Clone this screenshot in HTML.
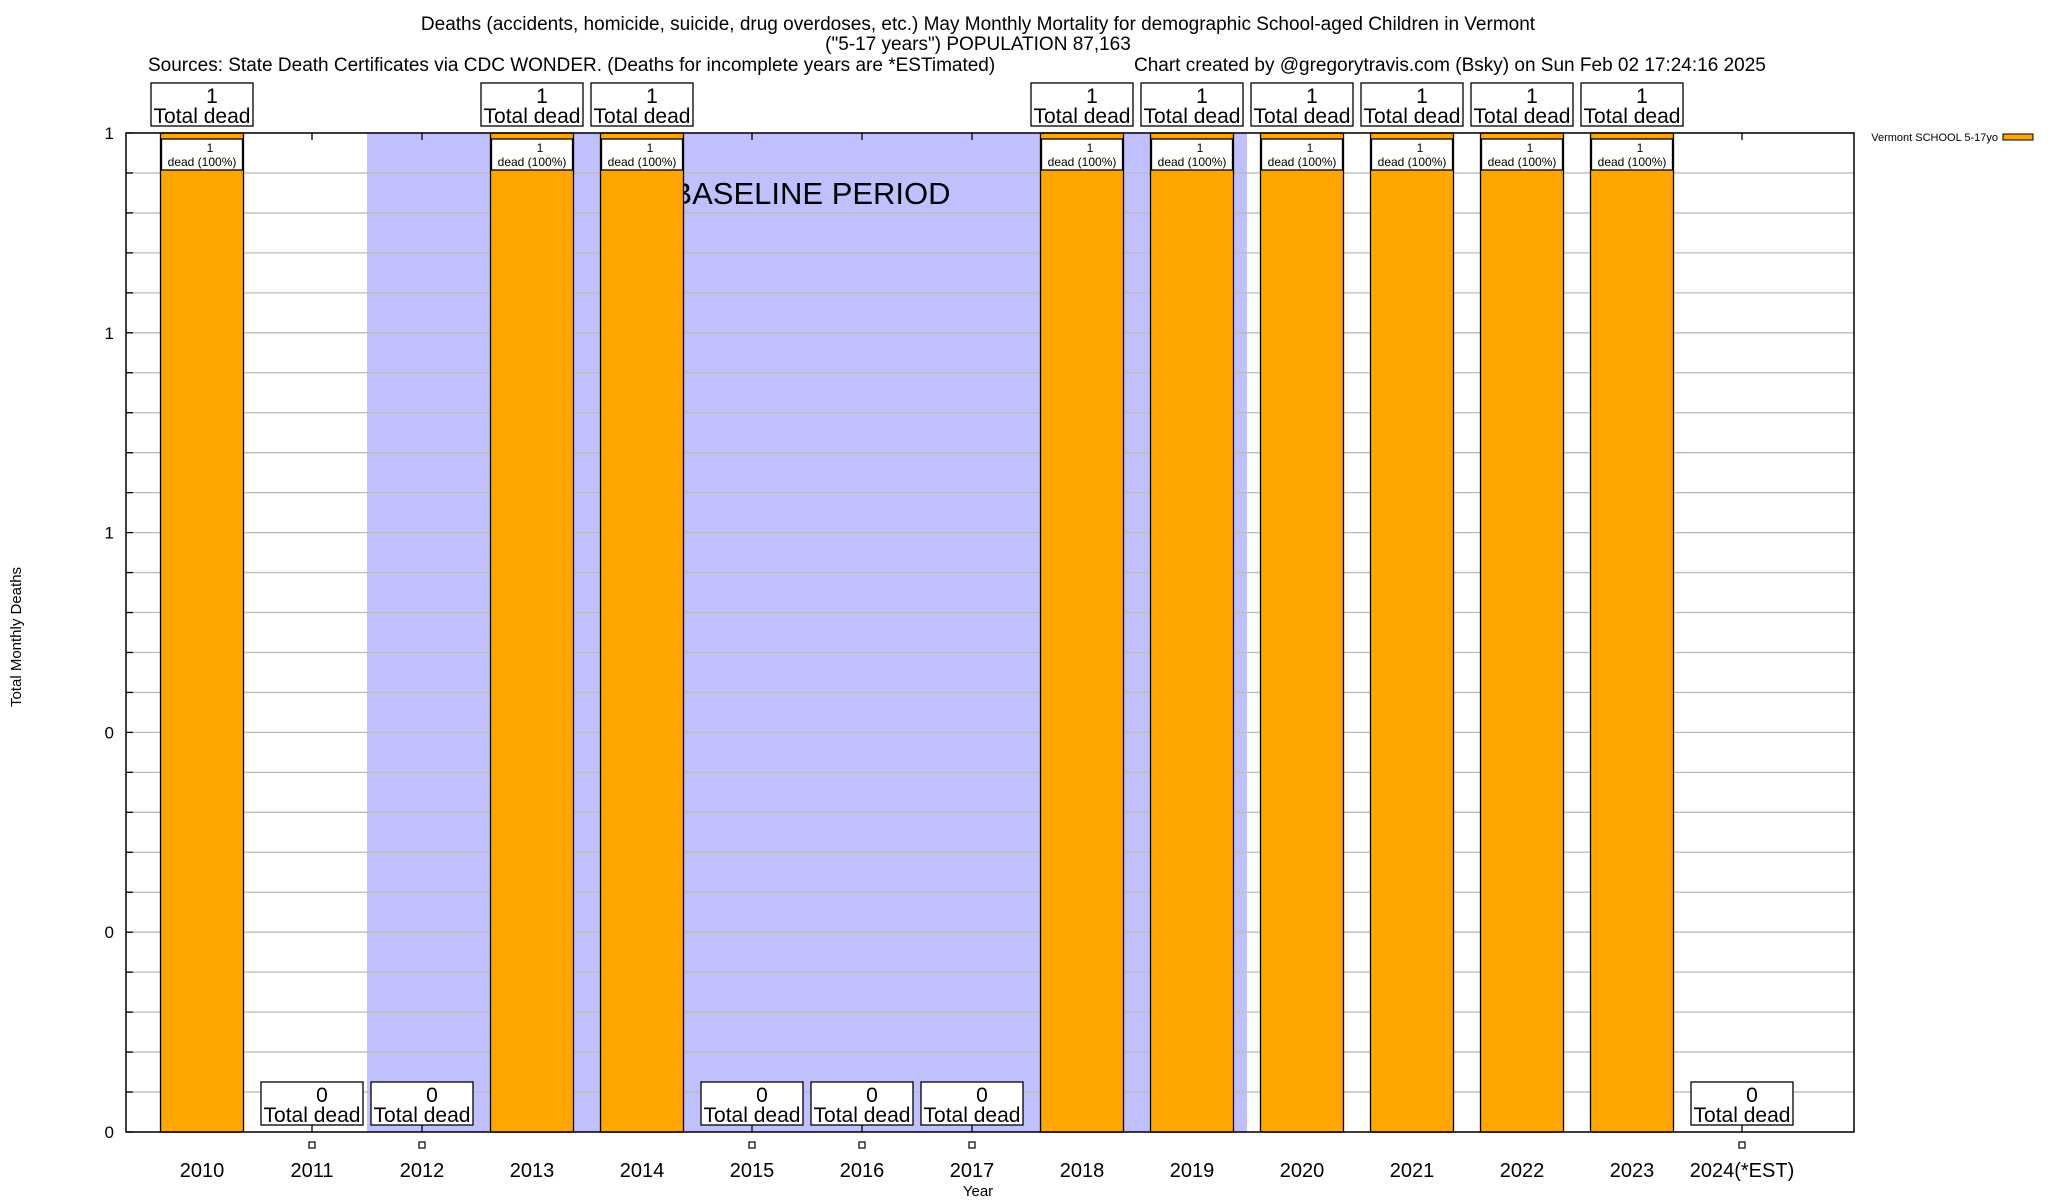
<!DOCTYPE html>
<html><head><meta charset="utf-8"><style>
body{margin:0;background:#fff;}
svg{display:block;font-family:"Liberation Sans",sans-serif;}
</style></head><body>
<svg id="c" width="2048" height="1200"></svg>
<script>
const years=["2010","2011","2012","2013","2014","2015","2016","2017","2018","2019","2020","2021","2022","2023","2024(*EST)"];
const deaths=[1,0,0,1,1,0,0,0,1,1,1,1,1,1,0];
const yTicks=[0,0.2,0.4,0.6,0.8,1.0];
const yTickLabels=["0","0","0","1","1","1"];
const baselineStart=1.5, baselineEnd=9.5;
const NS="http://www.w3.org/2000/svg";
const svg=document.getElementById('c');
const L=126,R=1854,T=133,B=1132,step=110,x0=202,bw=83;
const xs=i=>x0+i*step;
const ys=v=>B-(B-T)*v;
function el(t,a,txt){const e=document.createElementNS(NS,t);for(const k in a)e.setAttribute(k,a[k]);if(txt!==undefined)e.textContent=txt;svg.appendChild(e);return e;}
let t1=el('text',{x:978,y:30,'font-size':19,'text-anchor':'middle'},'Deaths (accidents, homicide, suicide, drug overdoses, etc.) May Monthly Mortality for demographic School-aged Children in Vermont');

let t2=el('text',{x:978,y:50,'font-size':19,'text-anchor':'middle'},'("5-17 years") POPULATION 87,163');

let t3=el('text',{x:148,y:71,'font-size':19},'Sources: State Death Certificates via CDC WONDER. (Deaths for incomplete years are *ESTimated)');

let t4=el('text',{x:1134,y:71,'font-size':19},'Chart created by @gregorytravis.com (Bsky) on Sun Feb 02 17:24:16 2025');

const sx1=xs(0)+(baselineStart)*step, sx2=xs(0)+baselineEnd*step;
let sh=el('rect',{x:sx1,y:T,width:sx2-sx1,height:B-T,fill:'#c0c0ff'});

for(let k=0;k<=25;k++){const v=k*0.04;const y=ys(v);
 const g=el('line',{x1:L,x2:R,y1:y,y2:y,stroke:'#bbb','stroke-width':1.3});
 
 const tk=el('line',{x1:L,x2:L+7,y1:y,y2:y,stroke:'#000','stroke-width':1.3});
 }
yTicks.forEach((v,i)=>{const tl=el('text',{x:114,y:ys(v)+6,'font-size':17,'text-anchor':'end'},yTickLabels[i]);
 });
let bp=el('text',{x:811,y:204,'font-size':31,'text-anchor':'middle'},'BASELINE PERIOD');

years.forEach((yr,i)=>{const cx=xs(i);const v=deaths[i];
 const tt=el('line',{x1:cx,x2:cx,y1:T,y2:T+7,stroke:'#000','stroke-width':1.3});
 
 if(v>0){const b=el('rect',{x:cx-bw/2,y:ys(v),width:bw,height:B-ys(v),fill:'#ffa500',stroke:'#000','stroke-width':1.3});
  
  const ib=el('rect',{x:cx-bw/2+1,y:ys(v)+6,width:bw-2,height:31,fill:'#fff',stroke:'#000','stroke-width':1.3});
  
  const a=el('text',{x:cx+8,y:ys(v)+19,'font-size':12,'text-anchor':'middle'},String(v));
  
  const b2=el('text',{x:cx,y:ys(v)+33,'font-size':12,'text-anchor':'middle'},'dead (100%)');
  
 }
 const by=v>0?83:ys(v)-50;
 const box=el('rect',{x:cx-51,y:by,width:102,height:43,fill:'#fff',stroke:'#000','stroke-width':1.3});
 
 const n=el('text',{x:cx+10,y:by+20,'font-size':21,'text-anchor':'middle'},String(v));
 
 const td=el('text',{x:cx,y:by+40,'font-size':21,'text-anchor':'middle'},'Total dead');
 
 if(v===0){const tk=el('line',{x1:cx,x2:cx,y1:B,y2:B-7,stroke:'#000','stroke-width':1.3});
  
  const sq=el('rect',{x:cx-3,y:1142,width:6,height:6,fill:'#fff',stroke:'#000','stroke-width':1.2});
  }
 const xl=el('text',{x:cx,y:1177,'font-size':20,'text-anchor':'middle'},yr);
 
});
let fr=el('rect',{x:L,y:T,width:R-L,height:B-T,fill:'none',stroke:'#000','stroke-width':1.5});

let xt=el('text',{x:978,y:1196,'font-size':15,'text-anchor':'middle'},'Year');

let yt=el('text',{x:0,y:0,'font-size':15,'text-anchor':'middle',transform:'translate(21,637) rotate(-90)'},'Total Monthly Deaths');

let lg=el('text',{x:1998,y:141,'font-size':11,'text-anchor':'end'},'Vermont SCHOOL 5-17yo');

let ls=el('rect',{x:2003,y:134,width:30,height:6,fill:'#ffa500',stroke:'#000','stroke-width':1});

</script>
</body></html>
